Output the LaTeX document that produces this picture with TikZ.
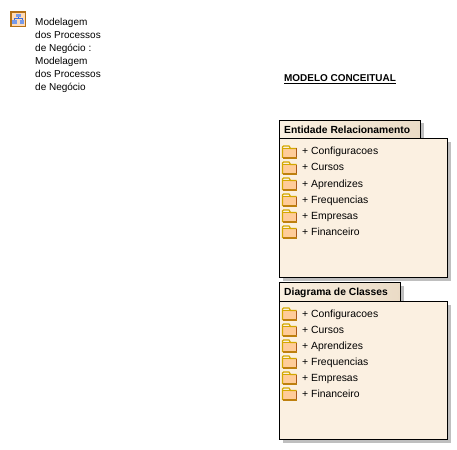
\documentclass[tikz,border=0pt]{standalone}
\usepackage{fontspec}
\setmainfont{Liberation Sans}
\usetikzlibrary{
    positioning,
    backgrounds
    }

\definecolor{pkgfill}{HTML}{FBF0E1}
\definecolor{pkgtab}{HTML}{EADBC6}
\definecolor{foldline}{HTML}{D4A800}
\definecolor{foldedge}{HTML}{A8581C}
\definecolor{foldfill}{HTML}{FFCC99}
\definecolor{iconblue}{HTML}{3C6FE0}

\begin{document}
\begin{tikzpicture}[x=1pt, y=-1pt]
\tikzset{pkg shadow/.style =
        {
            fill=black!25,
            draw=none
        }
}

\tikzset{pkg body/.style =
        {
            draw=black,
            line width=1pt,
            fill=pkgfill
        }
}

\tikzset{pkg tab/.style =
        {
            draw=black,
            line width=1pt,
            left color=pkgfill,
            right color=pkgtab
        }
}

\tikzset{pkg title/.style =
        {
            anchor=base west,
            inner sep=0pt,
            font=\fontsize{10.3}{12}\selectfont\bfseries
        }
}

\tikzset{item/.style =
        {
            anchor=base west,
            inner sep=0pt,
            font=\fontsize{10.4}{12}\selectfont
        }
}

\tikzset{name line/.style =
        {
            item,
            font=\fontsize{10}{12}\selectfont
        }
}

\tikzset{folder/.pic = {
            \fill [foldfill] (0.5,-3.5) rectangle (14.5,6);
            \draw [foldline, line width=1.2pt] (0.5,6) -- (0.5,-5) -- (1.5,-6) -- (7,-6) -- (8.5,-3.5) -- (14.5,-3.5);
            \draw [foldline, line width=1pt] (0.5,-3.5) -- (8.5,-3.5);
            \draw [foldedge, line width=1.2pt] (14.5,-3.5) -- (14.5,6);
            \draw [foldline!50!foldedge, line width=1.2pt] (0.5,6) -- (14.5,6);
        }
}

\tikzset{package/.pic = {
            \fill [iconblue!70] (-2.5,-5) rectangle (2.5,-1.8);
            \fill [iconblue!70] (-6,1.5) rectangle (-1.5,4.8);
            \fill [iconblue!70] (1.5,1.5) rectangle (6,4.8);
            \draw [iconblue, line width=0.8pt] (0,-1.8) -- (0,-0.2) (-3.7,1.5) -- (-3.7,-0.2) -- (3.7,-0.2) -- (3.7,1.5);
        }
}

\useasboundingbox (0,0) rectangle (457,449);

% model icon and its name
\draw[draw=foldedge!70!foldline, fill=foldfill!70!white, line width=1.4pt] (11,12) rectangle (25.5,26.5);
\pic at (18.2,19) {package};
\foreach \txt [count=\i] in {Modelagem, dos Processos, de Negócio :, Modelagem, dos Processos, de Negócio}
\node[name line] (name-\i) at (35,{12.6+13*\i}) {\txt};

\node[anchor=base west, inner sep=0pt, font=\fontsize{9.95}{12}\selectfont\bfseries] (title) at (284,81.5) {MODELO CONCEITUAL};
\draw[line width=1pt] (title.base west) ++(0,1.6) -- ([yshift=-1.6pt]title.base east);

% the two packages
\foreach \name / \top / \right / \bottom / \label in
    {er/120.5/420/277.5/Entidade Relacionamento,
        dc/282.5/400/439.5/Diagrama de Classes}
{
    \fill[pkg shadow] (282.5,\top+3) rectangle (\right+3.5,\top+22);
    \fill[pkg shadow] (282.5,\top+22) rectangle (451,\bottom+3.5);
    \draw[pkg tab] (279.5,\top) rectangle (\right,\top+18.5);
    \draw[pkg body] (279.5,\top+18.5) rectangle (447.5,\bottom);
    \node[pkg title] (\name-title) at (284,\top+13) {\label};
    \foreach \entry [count=\i] in {Configuracoes, Cursos, Aprendizes, Frequencias, Empresas, Financeiro}
    {
        \pic at (282,{\top+15.5+16*\i}) {folder};
        \node[item] (\name-\i) at (302,{\top+18.5+16*\i}) {+ \entry};
    }
}
\end{tikzpicture}
\end{document}
